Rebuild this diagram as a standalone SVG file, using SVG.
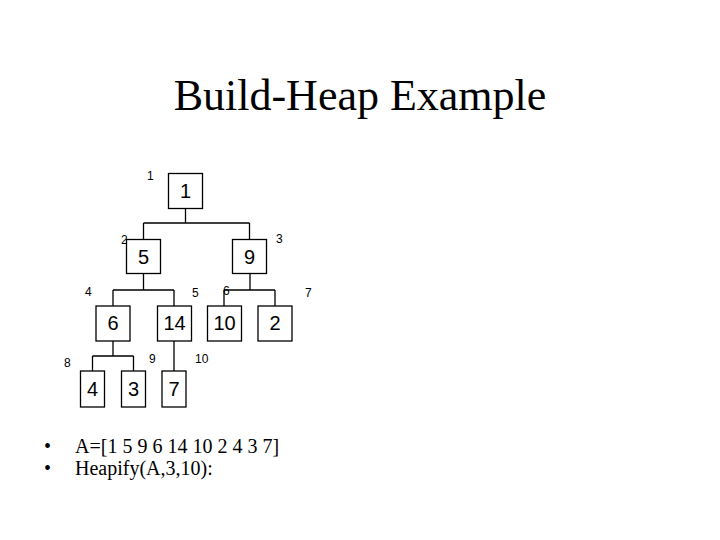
<svg xmlns="http://www.w3.org/2000/svg" width="720" height="540" viewBox="0 0 720 540">
<style>
.box{fill:#fff;stroke:#000;stroke-width:1.3}
.val{font-family:"Liberation Sans",Arial,sans-serif;font-size:20px;text-anchor:middle;fill:#000}
.idx{font-family:"Liberation Sans",Arial,sans-serif;font-size:12px;fill:#000}
.ln{fill:none;stroke:#000;stroke-width:1.3}
.tt{font-family:"Liberation Serif","Times New Roman",serif;fill:#000}
</style>
<rect width="720" height="540" fill="#fff"/>
<text class="tt" x="360" y="110" font-size="44" text-anchor="middle">Build-Heap Example</text>
<g id="connectors">
<path class="ln" d="M185.5 208V223M143.5 223H249.5M143.5 223V239M249.5 223V239"/>
<path class="ln" d="M143.5 273V290M113 290H174M113 290V306M174 290V306"/>
<path class="ln" d="M250 273V290M224 290H275M224 290V306M275 290V306"/>
<path class="ln" d="M113 341V356M92.5 356H133.5M92.5 356V371M133.5 356V371"/>
<path class="ln" d="M174 341V371"/>
</g>
<g id="idx-labels">
<text class="idx" x="147" y="180">1</text>
<text class="idx" x="121" y="244">2</text>
<text class="idx" x="276" y="243">3</text>
<text class="idx" x="85" y="296">4</text>
<text class="idx" x="192" y="297">5</text>
<text class="idx" x="223" y="295">6</text>
<text class="idx" x="305" y="297">7</text>
<text class="idx" x="64" y="367">8</text>
<text class="idx" x="149" y="363">9</text>
<text class="idx" x="195" y="363">10</text>
</g>
<g id="n1"><rect class="box" x="168.5" y="173.5" width="34" height="35"/><text class="val" x="185.5" y="198">1</text></g>
<g id="n2"><rect class="box" x="126.5" y="239.5" width="34" height="34"/><text class="val" x="143.5" y="264">5</text></g>
<g id="n3"><rect class="box" x="232.5" y="239.5" width="34" height="34"/><text class="val" x="249.5" y="264">9</text></g>
<g id="n4"><rect class="box" x="96" y="306" width="34" height="35"/><text class="val" x="113" y="330">6</text></g>
<g id="n5"><rect class="box" x="157.5" y="306" width="34" height="35"/><text class="val" x="174.5" y="330">14</text></g>
<g id="n6"><rect class="box" x="207.5" y="306" width="34" height="35"/><text class="val" x="224.5" y="330">10</text></g>
<g id="n7"><rect class="box" x="258" y="306" width="34" height="35"/><text class="val" x="275" y="330">2</text></g>
<g id="n8"><rect class="box" x="80.5" y="371" width="24" height="36"/><text class="val" x="92.5" y="396">4</text></g>
<g id="n9"><rect class="box" x="121.5" y="371" width="24" height="36"/><text class="val" x="133.5" y="396">3</text></g>
<g id="n10"><rect class="box" x="162" y="371" width="24" height="36"/><text class="val" x="174" y="396">7</text></g>
<g id="bullets" class="tt" font-size="20">
<text x="44" y="453">•</text><text x="75" y="453">A=[1 5 9 6 14 10 2 4 3 7]</text>
<text x="44" y="475">•</text><text x="75" y="475">Heapify(A,3,10):</text>
</g>
</svg>
